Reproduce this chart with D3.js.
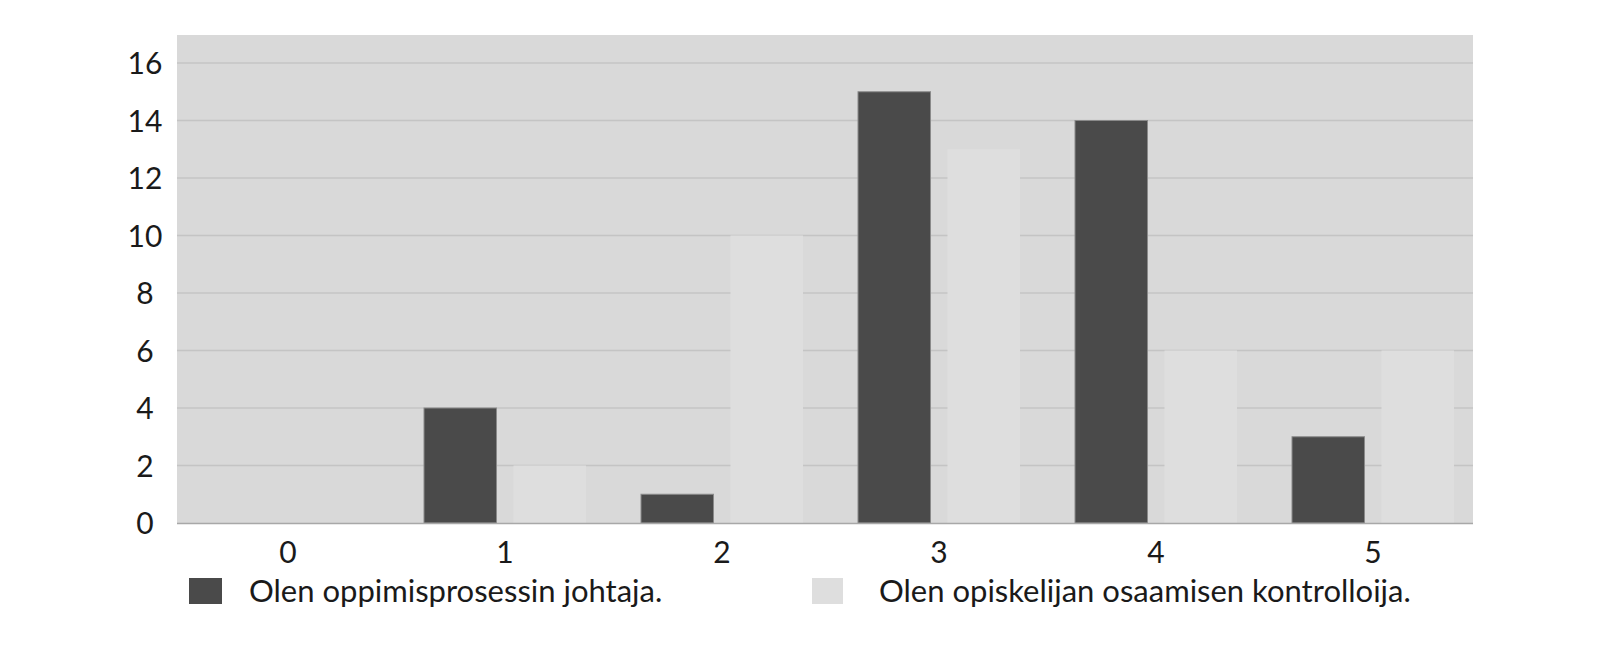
<!DOCTYPE html>
<html>
<head>
<meta charset="utf-8">
<script src="https://cdn.jsdelivr.net/npm/d3@7"></script>
<style>
  html, body { margin: 0; padding: 0; background: #ffffff; }
  svg { display: block; }
  text { font-family: "Lato", "Open Sans", sans-serif; fill: #1a1a1a; }
</style>
</head>
<body>
<svg id="chart" width="1616" height="647"></svg>
<script>
const categories = ["0", "1", "2", "3", "4", "5"];
const seriesNames = ["Olen oppimisprosessin johtaja.", "Olen opiskelijan osaamisen kontrolloija."];
const leaderValues = [0, 4, 1, 15, 14, 3];
const controllerValues = [0, 2, 10, 13, 6, 6];
const yTicks = [0, 2, 4, 6, 8, 10, 12, 14, 16];

(function () {
const seriesColors = ["#4a4a4a", "#dedede"];
const svg = d3.select("#chart");

const plotLeft = 177, plotRight = 1473, plotTop = 35, plotBottom = 523;

const x = d3.scaleBand().domain(categories).range([plotLeft, plotLeft + 6 * 217]).padding(0);
const xSub = d3.scaleBand().domain([0, 1]).range([30, 192]).paddingInner(0.19).paddingOuter(0);
const y = d3.scaleLinear().domain([0, 16]).range([plotBottom, 63]);

// background
svg.append("rect").attr("x", plotLeft).attr("y", plotTop)
  .attr("width", plotRight - plotLeft).attr("height", plotBottom - plotTop)
  .attr("fill", "#d9d9d9");

// gridlines
svg.append("g").selectAll("line").data(yTicks.filter(d => d > 0)).join("line")
  .attr("x1", plotLeft).attr("x2", plotRight)
  .attr("y1", d => y(d)).attr("y2", d => y(d))
  .attr("stroke", "#c4c4c4").attr("stroke-width", 1.5);

// bars
const data = categories.map((c, i) => ({ c, vals: [leaderValues[i], controllerValues[i]] }));
const groups = svg.append("g").selectAll("g").data(data).join("g")
  .attr("transform", d => `translate(${x(d.c)},0)`);
groups.selectAll("rect").data(d => d.vals.map((v, s) => ({ v, s })).filter(e => e.v > 0)).join("rect")
  .attr("x", e => xSub(e.s))
  .attr("width", xSub.bandwidth())
  .attr("y", e => y(e.v))
  .attr("height", e => y(0) - y(e.v))
  .attr("fill", e => seriesColors[e.s])
  .attr("stroke", e => e.s === 0 ? "#8a8a8a" : "none")
  .attr("stroke-width", 1);

// baseline
svg.append("line").attr("x1", plotLeft).attr("x2", plotRight)
  .attr("y1", y(0) + 0.5).attr("y2", y(0) + 0.5)
  .attr("stroke", "#a8a8a8").attr("stroke-width", 1.5);

// y axis labels
const yAxis = d3.axisLeft(y).tickValues(yTicks).tickSize(0).tickPadding(0);
const yg = svg.append("g").attr("transform", "translate(145,0)").call(yAxis);
yg.select(".domain").remove();
yg.selectAll("text").attr("text-anchor", "middle").attr("x", 0).attr("dy", "0.36em")
  .style("font-size", "30px").style("font-family", "Lato, sans-serif").attr("fill", "#1a1a1a");

// x axis labels
const xAxis = d3.axisBottom(x).tickSize(0).tickPadding(0);
const xg = svg.append("g").attr("transform", `translate(${111 - x.bandwidth() / 2},${plotBottom})`).call(xAxis);
xg.select(".domain").remove();
xg.selectAll("text").attr("dy", null).attr("y", 40)
  .style("font-size", "30px").style("font-family", "Lato, sans-serif").attr("fill", "#1a1a1a");

// legend
const legendPos = [{ sx: 189, tx: 249 }, { sx: 812, tx: 879 }];
const lg = svg.append("g").selectAll("g").data(seriesNames).join("g");
lg.append("rect")
  .attr("x", (d, i) => legendPos[i].sx).attr("y", 578)
  .attr("width", (d, i) => i === 0 ? 33 : 31).attr("height", 26)
  .attr("fill", (d, i) => seriesColors[i]);
lg.append("text")
  .attr("x", (d, i) => legendPos[i].tx).attr("y", 602)
  .style("font-size", "31px")
  .text(d => d);
})();
</script>
</body>
</html>
